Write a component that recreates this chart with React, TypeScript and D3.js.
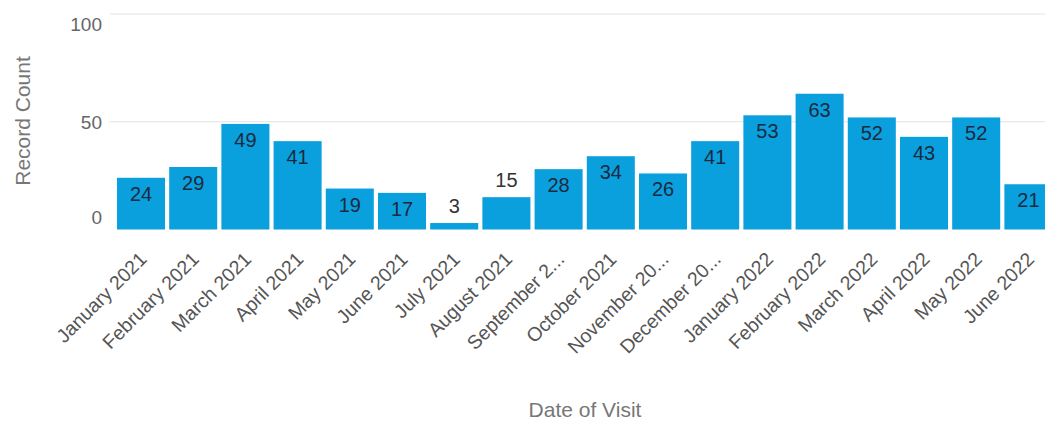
import React from "react";
import * as d3 from "d3";

const categories = [
  "January 2021", "February 2021", "March 2021", "April 2021", "May 2021", "June 2021",
  "July 2021", "August 2021", "September 2...", "October 2021", "November 20...", "December 20...",
  "January 2022", "February 2022", "March 2022", "April 2022", "May 2022", "June 2022",
];
const values = [24, 29, 49, 41, 19, 17, 3, 15, 28, 34, 26, 41, 53, 63, 52, 43, 52, 21];
const yTicks = [0, 50, 100];

const W = 1045;
const H = 422;
const FONT = "'Liberation Sans', Arial, sans-serif";

export default function App() {
  const x = d3.scaleBand<string>().domain(categories).range([114.9, 1054.5]).paddingInner(0.08).paddingOuter(0.04);
  const y = d3.scaleLinear().domain([0, 100]).range([229.5, 14]);
  const bw = x.bandwidth();

  return (
    <svg width={W} height={H} style={{ position: "absolute", left: 0, top: 0, fontFamily: FONT }}>
      <rect x={0} y={0} width={W} height={H} fill="#fff" />
      {yTicks.map((t, i) => (
        <g key={t}>
          {t !== 0 && <line x1={110} x2={W} y1={y(t)} y2={y(t)} stroke="#e2e2e2" strokeWidth={1} />}
          <text
            x={102}
            y={i === 0 ? y(t) - 6 : i === yTicks.length - 1 ? y(t) + 3 : y(t) + 1}
            textAnchor="end"
            dominantBaseline={i === 0 ? "auto" : i === yTicks.length - 1 ? "hanging" : "central"}
            fontSize={19}
            fill="#666"
          >
            {t}
          </text>
        </g>
      ))}
      {categories.map((c, i) => {
        const v = values[i];
        const bx = x(c)!;
        const top = y(v);
        const inside = v >= 16;
        return (
          <g key={c}>
            <rect x={bx} y={top} width={bw} height={y(0) - top} fill="#0AA0DD" />
            <text
              x={bx + bw / 2}
              y={inside ? top + 16 : top - 17}
              textAnchor="middle"
              dominantBaseline="central"
              fontSize={20}
              fill={inside ? "#1b2a40" : "#333"}
            >
              {v}
            </text>
            <text
              transform={`translate(${bx + bw / 2 + 2},${y(0) + 26}) rotate(-45)`}
              textAnchor="end"
              dominantBaseline="central"
              fontSize={19.5}
              fill="#555"
            >
              {c}
            </text>
          </g>
        );
      })}
      <text
        transform={`translate(22,121) rotate(-90)`}
        textAnchor="middle"
        dominantBaseline="central"
        fontSize={21}
        fill="#777"
      >
        Record Count
      </text>
      <text x={585} y={409} textAnchor="middle" dominantBaseline="central" fontSize={21} fill="#777">
        Date of Visit
      </text>
    </svg>
  );
}
